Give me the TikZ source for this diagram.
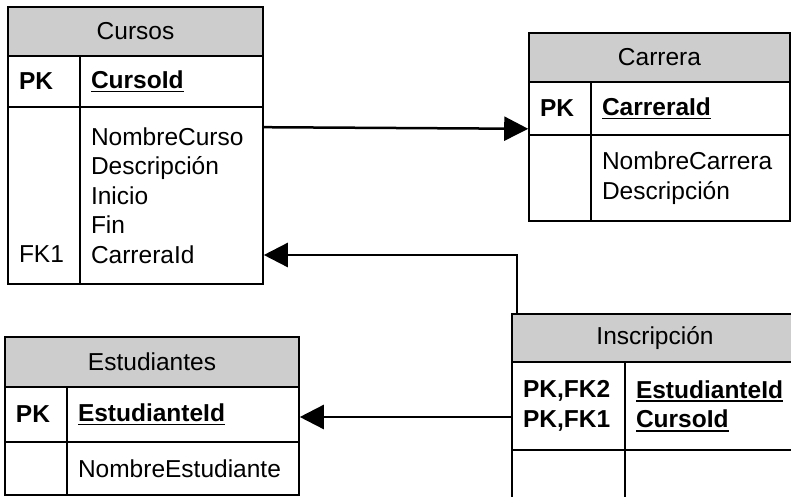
\documentclass[tikz,border=0pt]{standalone}
\usepackage{fontspec}
\setmainfont{Liberation Sans}
\usetikzlibrary{arrows.meta}

\definecolor{hdrgray}{RGB}{205,205,205}
\newcommand{\keyfld}[1]{\textbf{\setbox0\hbox{#1}\rlap{\rule[-4pt]{\wd0}{1.8pt}}\box0}}

\begin{document}
\begin{tikzpicture}[x=1pt,y=-1pt,
  tbl/.style={draw=black,line width=1.6pt,inner xsep=11pt,inner ysep=0pt,
    font=\fontsize{24.5}{29.5}\selectfont},
  hdr/.style={tbl,fill=hdrgray,align=center},
  cell/.style={tbl,align=left},
  rel/.style={line width=2.5pt,-{Triangle[length=24pt,width=24pt]}}]
\clip (0,0) rectangle (791,497);

% Cursos
\node[hdr,minimum width=255,minimum height=49] (curhdr) at (135.5,31.5) {Cursos};
\node[cell,text width=50,minimum height=51] (curpk) at (44,81.5) {\textbf{PK}};
\node[cell,text width=161,minimum height=51] (curkey) at (171.5,81.5) {\keyfld{CursoId}};
\node[cell,text width=50,minimum height=177] (curfk) at (44,195.5) {\phantom{N}\\~\\~\\~\\FK1};
\node[cell,text width=161,minimum height=177] (curbody) at (171.5,195.5) {NombreCurso\\Descripción\\Inicio\\Fin\\CarreraId};

% Carrera
\node[hdr,minimum width=261,minimum height=49] (carhdr) at (659.5,57.5) {Carrera};
\node[cell,text width=40,minimum height=53] (carpk) at (560,108.5) {\textbf{PK}};
\node[cell,text width=177,minimum height=53] (carkey) at (690.5,108.5) {\keyfld{CarreraId}};
\node[cell,text width=40,minimum height=86] (carfk) at (560,178) {};
\node[cell,text width=177,minimum height=86] (carbody) at (690.5,178) {NombreCarrera\\Descripción};

% Estudiantes
\node[hdr,minimum width=294,minimum height=50] (esthdr) at (152,362) {Estudiantes};
\node[cell,text width=40,minimum height=55] (estpk) at (36,414.5) {\textbf{PK}};
\node[cell,text width=210,minimum height=55] (estkey) at (183,414.5) {\keyfld{EstudianteId}};
\node[cell,text width=40,minimum height=53] (estfk) at (36,468.5) {};
\node[cell,text width=210,minimum height=53] (estbody) at (183,468.5) {NombreEstudiante};

% Inscripcion
\node[hdr,minimum width=286,minimum height=48] (inshdr) at (655,338) {Inscripción};
\node[cell,text width=91,minimum height=88] (inspk) at (568.5,406) {\textbf{PK,FK2}\\\textbf{PK,FK1}};
\node[cell,text width=151,minimum height=88] (inskey) at (711.5,406) {\keyfld{EstudianteId}\\\keyfld{CursoId}};
\node[cell,text width=91,minimum height=80] (insfk) at (568.5,490) {};
\node[cell,text width=151,minimum height=80] (insbody) at (711.5,490) {};

% relaciones
\draw[rel] ([yshift=-21]curbody.north east) -- ([yshift=7]carpk.south west);
\draw[rel] ([xshift=6]inshdr.north west) |- ([yshift=-59.5]curbody.east);
\draw[rel] ([yshift=-11]inspk.west) -- ([yshift=-2.5]estkey.east);
\end{tikzpicture}
\end{document}
